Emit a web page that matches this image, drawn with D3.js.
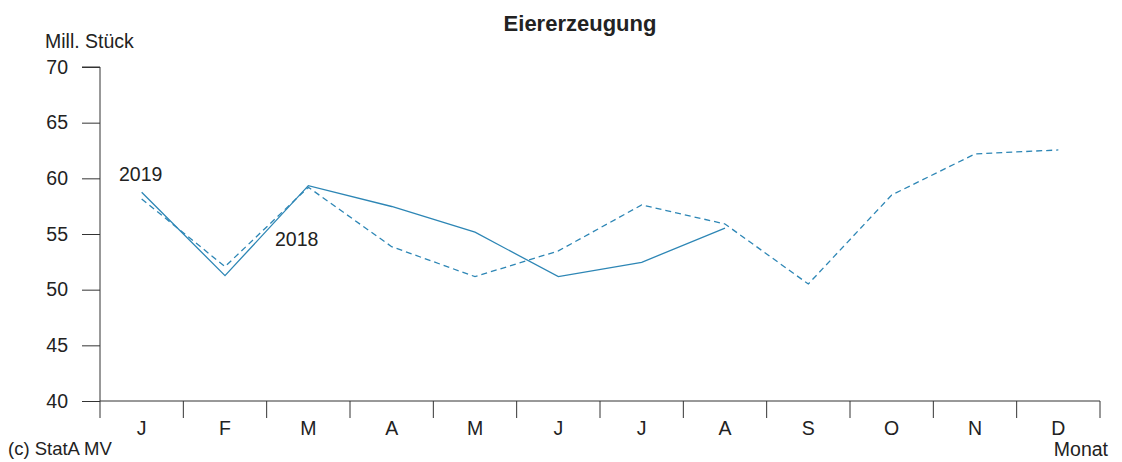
<!DOCTYPE html>
<html>
<head>
<meta charset="utf-8">
<script src="https://cdn.jsdelivr.net/npm/d3@7"></script>
<style>
  body { margin: 0; background: #fff; }
  svg text { font-family: "Liberation Sans", Arial, sans-serif; fill: #222; }
</style>
</head>
<body>
<div id="chart"></div>
<script>
// Daten
const monate = ["J", "F", "M", "A", "M", "J", "J", "A", "S", "O", "N", "D"];
const werte2019 = [58.75, 51.26, 59.34, 57.47, 55.16, 51.17, 52.46, 55.52];
const werte2018 = [58.15, 52.07, 59.2, 53.86, 51.17, 53.48, 57.61, 55.9, 50.51, 58.5, 62.19, 62.55];
const yTicks = [40, 45, 50, 55, 60, 65, 70];

const W = 1122, H = 462;
const margin = { top: 67, right: 22, bottom: 61, left: 100 };
const farbe = "#2d86b5";
const fs = "19.5px";

const svg = d3.select("#chart").append("svg")
    .attr("width", W)
    .attr("height", H);

const x = d3.scaleBand().domain(d3.range(12)).range([margin.left, W - margin.right]);
const y = d3.scaleLinear().domain([40, 70]).range([H - margin.bottom, margin.top]);

// Titel
svg.append("text")
    .attr("x", 580).attr("y", 31)
    .attr("text-anchor", "middle")
    .style("font-weight", "bold")
    .style("font-size", "22px")
    .text("Eiererzeugung");

svg.append("text")
    .attr("x", 45).attr("y", 48)
    .style("font-size", fs)
    .text("Mill. Stück");

// y-Achse
const yAxis = svg.append("g")
    .attr("transform", "translate(" + margin.left + ",0)")
    .call(d3.axisLeft(y).tickValues(yTicks).tickSize(18).tickPadding(14));
yAxis.selectAll("text").style("font-size", fs).attr("fill", "#222");
yAxis.selectAll("line, path").attr("stroke", "#333");
yAxis.select(".domain").attr("d", "M0," + y(40) + "V" + y(70) + "H-18");

// x-Achse
const xAxisG = svg.append("g")
    .attr("transform", "translate(0," + y(40) + ")");
xAxisG.append("line")
    .attr("x1", margin.left).attr("x2", W - margin.right)
    .attr("stroke", "#333");
xAxisG.selectAll(".tk")
    .data(d3.range(13))
    .join("line")
    .attr("x1", i => margin.left + i * x.step())
    .attr("x2", i => margin.left + i * x.step())
    .attr("y1", 0).attr("y2", 17)
    .attr("stroke", "#333");
xAxisG.selectAll(".lbl")
    .data(monate)
    .join("text")
    .attr("x", (d, i) => x(i) + x.bandwidth() / 2)
    .attr("y", 34)
    .attr("text-anchor", "middle")
    .style("font-size", fs)
    .text(d => d);

svg.append("text")
    .attr("x", 1108).attr("y", 456)
    .attr("text-anchor", "end")
    .style("font-size", fs)
    .text("Monat");

svg.append("text")
    .attr("x", 8).attr("y", 455)
    .style("font-size", "18.5px")
    .text("(c) StatA MV");

// Linien
const line = d3.line()
    .x((d, i) => x(i) + x.bandwidth() / 2)
    .y(d => y(d));

svg.append("path")
    .datum(werte2018)
    .attr("d", line)
    .attr("fill", "none")
    .attr("stroke", farbe)
    .attr("stroke-width", 1.3)
    .attr("stroke-dasharray", "6,4");

svg.append("path")
    .datum(werte2019)
    .attr("d", line)
    .attr("fill", "none")
    .attr("stroke", farbe)
    .attr("stroke-width", 1.3);

// Beschriftungen der Linien
svg.append("text")
    .attr("x", 119).attr("y", 181)
    .style("font-size", fs)
    .text("2019");

svg.append("text")
    .attr("x", 275).attr("y", 246)
    .style("font-size", fs)
    .text("2018");
</script>
</body>
</html>
